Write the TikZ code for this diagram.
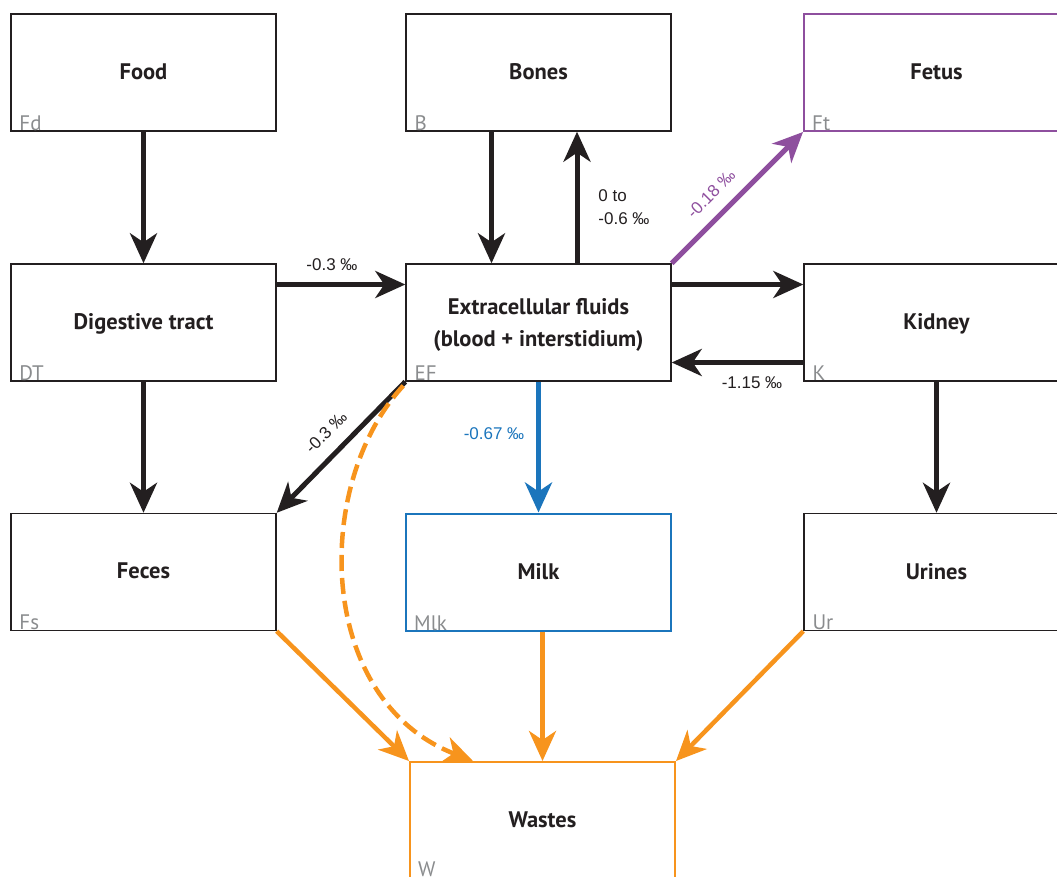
\documentclass[tikz,border=0pt]{standalone}
\usepackage{fontspec}
\setmainfont{PT Sans}
\newfontfamily\lblfont{Liberation Sans}
\usetikzlibrary{arrows.meta}
\definecolor{ink}{HTML}{231F20}
\definecolor{grayt}{HTML}{8A8C8E}
\definecolor{purp}{HTML}{8E4F9E}
\definecolor{blu}{HTML}{1B75BC}
\definecolor{orng}{HTML}{F7941D}
\tikzset{
  box/.style={draw=ink, line width=1.4pt, minimum width=265pt, minimum height=117pt, inner sep=0pt,
    font=\fontsize{22.5}{32}\selectfont\bfseries, text=ink, align=center, text depth=0pt},
  cbox/.style={box, line width=2pt},
  corner/.style={anchor=south west, inner sep=0pt, text=grayt, font=\fontsize{21}{24}\selectfont},
  flow/.style={line width=5pt, draw=ink, -{Stealth[length=30pt,width=27pt,inset=9pt]}},
  oflow/.style={flow, orng, line width=4.5pt},
  flowlbl/.style={font=\lblfont\fontsize{17}{23}\selectfont, text=ink, inner sep=1pt, align=center},
}
\begin{document}
\begin{tikzpicture}[x=1pt,y=-1pt]
\useasboundingbox (0,0) rectangle (1057,877);
\begin{scope}
\clip (0,0) rectangle (1057,877);
% boxes
\node[box] (fd) at (143.5,72.5) {\raisebox{2pt}{Food}};
\node[box] (b) at (538.5,72.5) {\raisebox{2pt}{Bones}};
\node[cbox, draw=purp] (ft) at (936.5,72.5) {\raisebox{2pt}{Fetus}};
\node[box] (dt) at (143.5,322.5) {\raisebox{2pt}{Digestive tract}};
\node[box] (ef) at (538.5,322.5) {Extracellular fluids\\(blood + interstidium)};
\node[box] (k) at (936.5,322.5) {\raisebox{2pt}{Kidney}};
\node[box] (fs) at (143.5,572) {\raisebox{2pt}{Feces}};
\node[cbox, draw=blu] (mlk) at (538.5,572) {\raisebox{2pt}{Milk}};
\node[box] (ur) at (936.5,572) {\raisebox{2pt}{Urines}};
\node[cbox, draw=orng] (w) at (542.5,820.5) {\raisebox{2pt}{Wastes}};
% corner labels
\foreach \n/\t in {fd/Fd,b/B,ft/Ft,dt/DT,ef/EF,k/K,fs/Fs,mlk/Mlk,ur/Ur}
  \node[corner] (c\n) at ([xshift=9pt,yshift=1pt]\n.south west) {\t};
\node[corner] (cw) at ([xshift=9pt,yshift=3pt]w.south west) {W};
\end{scope}
% black flows
\draw[flow] (fd.south) -- (dt.north);
\draw[flow] ([xshift=-47pt]b.south) -- ([xshift=-47pt]ef.north);
\draw[flow] ([xshift=38.5pt]ef.north) -- ([xshift=38.5pt]b.south);
\draw[flow] ([yshift=38pt]dt.east) -- ([yshift=38pt]ef.west);
\draw[flow] ([yshift=38pt]ef.east) -- ([yshift=38pt]k.west);
\draw[flow] ([yshift=-40pt]k.west) -- ([yshift=-40pt]ef.east);
\draw[flow] (dt.south) -- (fs.north);
\draw[flow] (k.south) -- (ur.north);
\draw[flow] (ef.south west) -- (fs.north east);
% coloured flows
\draw[flow, purp] (ef.north east) -- (ft.south west);
\draw[flow, blu] (ef.south) -- (mlk.north);
\draw[oflow] (fs.south east) -- (w.north west);
\draw[oflow] ([xshift=4pt]mlk.south) -- (w.north);
\draw[oflow] (ur.south west) -- (w.north east);
\draw[oflow, dash pattern=on 16pt off 7pt] ([xshift=-2pt,yshift=-4pt]ef.south west) .. controls (312,485) and (316,700) .. ([xshift=64pt]w.north west);
% labels
\node[flowlbl] (l1) at (332,265) {-0.3 ‰};
\node[flowlbl, align=left] (l2) at (624,207) {0 to\\-0.6 ‰};
\node[flowlbl, text=purp, rotate=45] (l3) at (711,194) {-0.18 ‰};
\node[flowlbl] (l4) at (752,383) {-1.15 ‰};
\node[flowlbl, rotate=45] (l5) at (326,432) {-0.3 ‰};
\node[flowlbl, text=blu] (l6) at (494,434) {-0.67 ‰};
\end{tikzpicture}
\end{document}
